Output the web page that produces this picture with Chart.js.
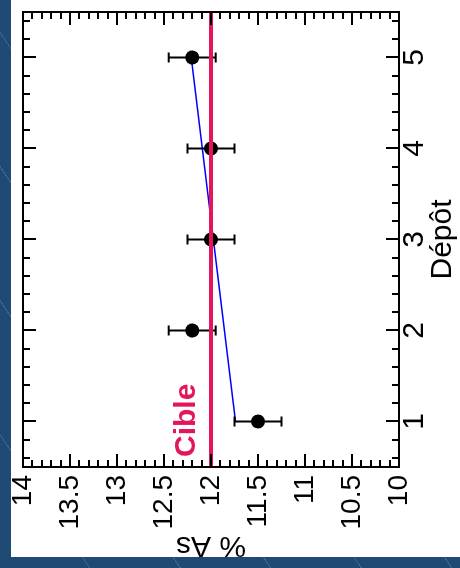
<!DOCTYPE html>
<html>
<head>
<meta charset="utf-8">
<script src="https://cdn.jsdelivr.net/npm/chart.js@4"></script>
<style>
  html, body { margin: 0; padding: 0; }
  body {
    width: 460px; height: 568px; overflow: hidden; position: relative;
    background-color: #1e4a73;
    background-image: repeating-linear-gradient(56deg, transparent 0, transparent 74px, rgba(120,160,200,0.35) 74px, rgba(120,160,200,0.35) 75px);
  }
  #panel { position: absolute; left: 11px; top: 0; width: 449px; height: 557px; background: #fff; overflow: hidden; }
  #rot { position: absolute; left: 0; top: 0; width: 557px; height: 449px; transform-origin: 0 0; transform: translate(0, 557px) rotate(-90deg); }
</style>
</head>
<body>
<div id="panel">
  <div id="rot"><canvas id="chart" width="557" height="449"></canvas></div>
</div>
<script>
// -------- DATA --------
const depots = [1, 2, 3, 4, 5];
const asValues = [11.5, 12.2, 12.0, 12.0, 12.2];
const asErrors = [0.25, 0.25, 0.25, 0.25, 0.25];
const trendDepots = [1, 5];
const trendValues = [11.74, 12.21];
const cibleValue = 12;
const cibleLabel = "Cible";
const depotRange = [0.5, 5.5];
const depotTicks = [1, 2, 3, 4, 5];
const valueTicks = [10, 10.5, 11, 11.5, 12, 12.5, 13, 13.5, 14];

// -------- STYLE --------
const FONT = "'Liberation Sans', Arial, sans-serif";
const CRIMSON = "#e3155b";

// error bars: two ends + a gap per depot
const errorData = [];
depots.forEach((d, i) => {
    errorData.push({ x: d, y: asValues[i] - asErrors[i] });
    errorData.push({ x: d, y: asValues[i] + asErrors[i] });
    errorData.push({ x: d, y: null });
});

// -------- FRAME + INWARD TICKS --------
const frameTicks = {
    id: "frameTicks",
    afterDatasetsDraw(chart) {
        const { ctx, chartArea: a, scales: { x, y } } = chart;
        ctx.save();
        ctx.strokeStyle = "#000";
        ctx.lineWidth = 2;
        ctx.beginPath();
        const lo = valueTicks[0], hi = valueTicks[valueTicks.length - 1];
        const nv = Math.round((hi - lo) / 0.1);
        for (let i = 0; i <= nv; i++) {
            const py = Math.round(y.getPixelForValue(lo + i * 0.1));
            const len = i % 5 === 0 ? 13 : 7;
            ctx.moveTo(a.left, py); ctx.lineTo(a.left + len, py);
            ctx.moveTo(a.right, py); ctx.lineTo(a.right - len, py);
        }
        const nd = Math.round((depotRange[1] - depotRange[0]) / 0.2);
        for (let i = 1; i <= nd; i++) {
            const v = depotRange[0] + 0.1 + (i - 1) * 0.2;
            if (v >= depotRange[1]) break;
            const px = Math.round(x.getPixelForValue(v));
            const len = Math.abs(v - Math.round(v)) < 1e-6 ? 13 : 7;
            ctx.moveTo(px, a.top); ctx.lineTo(px, a.top + len);
            ctx.moveTo(px, a.bottom); ctx.lineTo(px, a.bottom - len);
        }
        ctx.stroke();
        ctx.strokeRect(a.left, a.top, a.right - a.left, a.bottom - a.top);

        // target label
        ctx.fillStyle = CRIMSON;
        ctx.font = "bold 30px " + FONT;
        ctx.textAlign = "left";
        ctx.textBaseline = "alphabetic";
        ctx.fillText(cibleLabel, x.getPixelForValue(depotRange[0]) + 10, y.getPixelForValue(cibleValue) - 16);
        ctx.restore();
    }
};

// -------- CHART --------
new Chart(document.getElementById("chart"), {
    type: "line",
    data: {
        datasets: [
            {
                data: depotRange.map(d => ({ x: d, y: cibleValue })),
                borderColor: CRIMSON,
                borderWidth: 4,
                pointRadius: 0
            },
            {
                data: depots.map((d, i) => ({ x: d, y: asValues[i] })),
                showLine: false,
                pointRadius: 7,
                pointBackgroundColor: "#000",
                pointBorderColor: "#000",
                pointBorderWidth: 0
            },
            {
                data: errorData,
                borderColor: "#000",
                borderWidth: 2,
                spanGaps: false,
                pointStyle: "line",
                pointRadius: 5,
                pointBorderColor: "#000",
                pointBorderWidth: 2
            },
            {
                data: trendDepots.map((d, i) => ({ x: d, y: trendValues[i] })),
                borderColor: "#0000ff",
                borderWidth: 1.5,
                pointRadius: 0
            }
        ]
    },
    options: {
        responsive: false,
        animation: false,
        events: [],
        layout: { padding: { top: 12, right: 12, left: 0, bottom: 0 } },
        plugins: {
            legend: { display: false },
            tooltip: { enabled: false }
        },
        scales: {
            x: {
                type: "linear",
                position: "bottom",
                min: depotRange[0],
                max: depotRange[1],
                afterBuildTicks: s => { s.ticks = depotTicks.map(v => ({ value: v })); },
                afterFit: s => { s.height = 61; s.paddingLeft = 0; s.paddingRight = 0; },
                grid: { display: false, drawTicks: false },
                border: { display: false },
                ticks: {
                    autoSkip: false, maxRotation: 0, padding: -2,
                    color: "#000", font: { family: FONT, size: 30 },
                    callback: v => String(v)
                },
                title: {
                    display: true, text: "Dépôt", color: "#000",
                    font: { family: FONT, size: 30 },
                    padding: { top: 0, bottom: -1 }
                }
            },
            y: {
                type: "linear",
                position: "left",
                min: valueTicks[0],
                max: valueTicks[valueTicks.length - 1],
                afterBuildTicks: s => { s.ticks = valueTicks.map(v => ({ value: v })); },
                afterFit: s => { s.width = 90; s.paddingTop = 0; s.paddingBottom = 0; },
                grid: { display: false, drawTicks: false },
                border: { display: false },
                ticks: {
                    autoSkip: false, padding: 8,
                    color: "#000", font: { family: FONT, size: 28 },
                    callback: v => String(v)
                },
                title: {
                    display: true, text: "% As", color: "#000",
                    font: { family: FONT, size: 30 },
                    padding: { top: -6, bottom: 0 }
                }
            }
        }
    },
    plugins: [frameTicks]
});
</script>
</body>
</html>
